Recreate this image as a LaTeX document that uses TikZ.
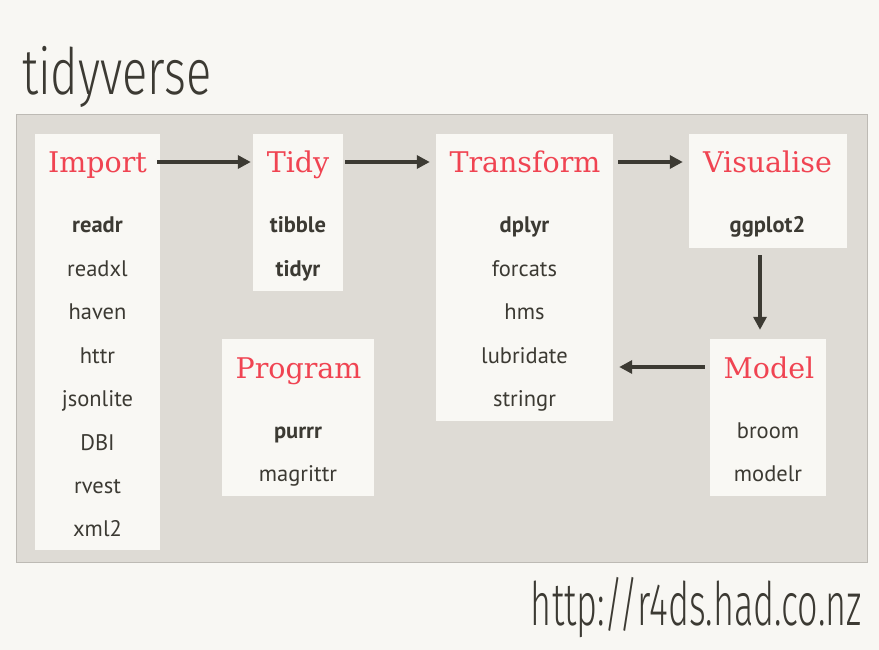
\documentclass[tikz,border=0pt]{standalone}
\usepackage{fontspec}
\usetikzlibrary{arrows.meta}
\newfontfamily\slabfont{DejaVu Serif}
\newfontfamily\itemfont{PT Sans}
\newfontfamily\thinfont{Fira Sans Light}
\definecolor{bgc}{HTML}{F8F7F3}
\definecolor{panelc}{HTML}{DEDBD5}
\definecolor{panelb}{HTML}{BDBAB4}
\definecolor{boxc}{HTML}{F9F8F4}
\definecolor{redc}{HTML}{F04452}
\definecolor{darkc}{HTML}{3C3A33}
\begin{document}
\begin{tikzpicture}[x=1pt,y=-1pt,
  box/.style={fill=boxc, draw=none, inner sep=0pt},
  head/.style={font=\slabfont\fontsize{28.5}{30}\selectfont, text=redc, anchor=base, inner sep=0pt},
  pkg/.style={font=\itemfont\fontsize{22.5}{24}\selectfont, text=darkc, anchor=base, inner sep=0pt},
  pkgb/.style={font=\itemfont\bfseries\fontsize{22.5}{24}\selectfont, text=darkc, anchor=base, inner sep=0pt},
  arr/.style={draw=darkc, line width=3.2pt, -{Triangle[length=13pt,width=13pt]}},
  big/.style={font=\thinfont\fontsize{64}{66}\selectfont, text=darkc, inner sep=0pt}
]
\fill[bgc] (0,0) rectangle (879,650);
\useasboundingbox (0,0) rectangle (879,650);

\node[big, anchor=base west] (title) at (22,95) {\scalebox{0.735}[1]{tidyverse}};
\node[big, anchor=base east, font=\thinfont\fontsize{60}{62}\selectfont] (url) at (862,625) {\scalebox{0.6}[1]{http://r4ds.had.co.nz}};

\node[fill=panelc, draw=panelb, line width=1pt, inner sep=0pt, minimum width=851pt, minimum height=447pt] (panel) at (441.5,338.5) {};

% boxes
\node[box, minimum width=125pt, minimum height=416pt] (imp) at (97.5,342) {};
\node[box, minimum width=90pt, minimum height=157pt] (tidy) at (298,212.5) {};
\node[box, minimum width=177pt, minimum height=287pt] (trans) at (524.5,277.5) {};
\node[box, minimum width=158pt, minimum height=114pt] (vis) at (768,191) {};
\node[box, minimum width=116pt, minimum height=157pt] (model) at (768,417.5) {};
\node[box, minimum width=152pt, minimum height=157pt] (prog) at (298,417.5) {};

% headings
\node[head] (impT) at (97.5,173) {Import};
\node[head] (tidyT) at (298,173) {Tidy};
\node[head] (transT) at (525,173) {Transform};
\node[head] (visT) at (767.5,173) {Visualise};
\node[head] (modelT) at (769,378) {Model};
\node[head] (progT) at (298.5,378) {Program};

% Import packages
\node[pkgb] (readr) at (97.5,233) {readr};
\node[pkg] (readxl) at (97.5,276.4) {readxl};
\node[pkg] (haven) at (97.5,319.8) {haven};
\node[pkg] (httr) at (97.5,363.2) {httr};
\node[pkg] (jsonlite) at (97.5,406.6) {jsonlite};
\node[pkg] (dbi) at (97.5,450) {DBI};
\node[pkg] (rvest) at (97.5,493.4) {rvest};
\node[pkg] (xml) at (97.5,536.8) {xml2};

% Tidy packages
\node[pkgb] (tibble) at (298,233) {tibble};
\node[pkgb] (tidyr) at (298,276.4) {tidyr};

% Transform packages
\node[pkgb] (dplyr) at (524.5,233) {dplyr};
\node[pkg] (forcats) at (524.5,276.4) {forcats};
\node[pkg] (hms) at (524.5,319.8) {hms};
\node[pkg] (lubridate) at (524.5,363.2) {lubridate};
\node[pkg] (stringr) at (524.5,406.6) {stringr};

% Visualise
\node[pkgb] (ggplot) at (767.5,233) {ggplot2};

% Model
\node[pkg] (broom) at (768,438) {broom};
\node[pkg] (modelr) at (768,481) {modelr};

% Program
\node[pkgb] (purrr) at (298,438) {purrr};
\node[pkg] (magrittr) at (298,481) {magrittr};

% arrows
\draw[arr, shorten <=-3pt, shorten >=2pt] (imp.east |- 0,162) -- (tidy.west |- 0,162);
\draw[arr, shorten <=2pt, shorten >=6pt] (tidy.east |- 0,162) -- (trans.west |- 0,162);
\draw[arr, shorten <=5pt, shorten >=6pt] (trans.east |- 0,162) -- (vis.west |- 0,162);
\draw[arr, shorten <=7pt, shorten >=9pt] (vis.south -| 760,0) -- (model.north -| 760,0);
\draw[arr, shorten <=5pt, shorten >=6pt] (model.west |- 0,367) -- (trans.east |- 0,367);
\end{tikzpicture}
\end{document}
